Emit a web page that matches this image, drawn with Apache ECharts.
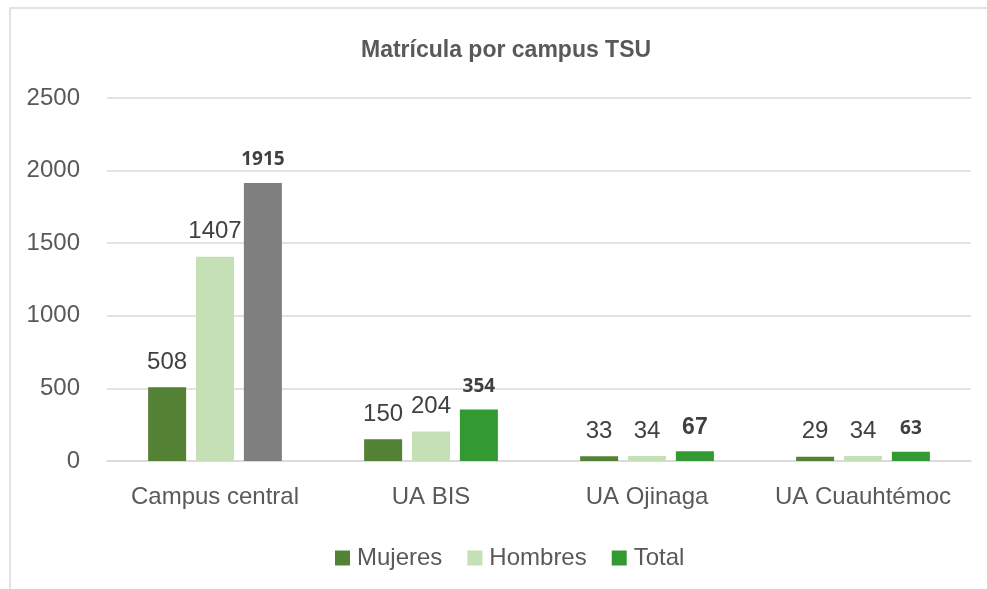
<!DOCTYPE html>
<html>
<head>
<meta charset="utf-8">
<script src="https://cdn.jsdelivr.net/npm/echarts@6/dist/echarts.min.js"></script>
<style>
  html, body { margin: 0; padding: 0; background: #fff; }
  #chart { width: 987px; height: 589px; }
</style>
</head>
<body>
<div id="chart"></div>
<script>
// categorias y valores
var campus = ["Campus central", "UA BIS", "UA Ojinaga", "UA Cuauhtémoc"];
var mujeres = [508, 150, 33, 29];
var hombres = [1407, 204, 34, 34];
var total = [1915, 354, 67, 63];
var yTicks = [0, 500, 1000, 1500, 2000, 2500];

var sans = "'Liberation Sans', Arial, sans-serif";

var chart = echarts.init(document.getElementById("chart"));

var plainLabel = {
  show: true,
  position: "top",
  distance: 13,
  fontFamily: sans,
  fontSize: 24,
  color: "#404040"
};

// total: gris en campus central, negritas en las etiquetas
var totalData = total.map(function(v, i) {
  var item = { value: v };
  if (i === 0) {
    item.itemStyle = { color: "#7f7f7f" };
  }
  if (i === 2) {
    item.label = { fontFamily: sans, fontSize: 23, fontWeight: "bold", distance: 12 };
  }
  return item;
});

var option = {
  backgroundColor: "#ffffff",
  animation: false,
  title: {
    text: "Matrícula por campus TSU",
    left: 356,
    top: 34,
    textStyle: {
      fontFamily: sans,
      fontSize: 23,
      fontWeight: "bold",
      color: "#595959"
    }
  },
  graphic: [
    {
      type: "rect",
      shape: { x: 10, y: 8, width: 1000, height: 620 },
      style: { fill: "none", stroke: "#d9d9d9", lineWidth: 1.5 },
      silent: true
    }
  ],
  legend: {
    left: 330,
    top: 541,
    itemWidth: 15,
    itemHeight: 15,
    itemGap: 25,
    icon: "rect",
    textStyle: {
      fontFamily: sans,
      fontSize: 24,
      color: "#595959",
      padding: [0, 0, 0, 2]
    },
    data: ["Mujeres", "Hombres", "Total"]
  },
  grid: {
    left: 107,
    right: 16,
    top: 98,
    bottom: 128
  },
  xAxis: {
    type: "category",
    data: campus,
    axisTick: { show: false },
    axisLine: { lineStyle: { color: "#d9d9d9", width: 1.5 } },
    axisLabel: {
      interval: 0,
      fontFamily: sans,
      fontSize: 24,
      color: "#595959",
      margin: 24
    }
  },
  yAxis: {
    type: "value",
    min: yTicks[0],
    max: yTicks[yTicks.length - 1],
    interval: 500,
    axisLine: { show: false },
    axisTick: { show: false },
    axisLabel: {
      fontFamily: sans,
      fontSize: 24,
      color: "#595959",
      margin: 27,
      formatter: function(v) { return String(v); }
    },
    splitLine: { lineStyle: { color: "#d9d9d9", width: 1.5 } }
  },
  series: [
    {
      name: "Mujeres",
      type: "bar",
      data: mujeres,
      barWidth: 38,
      barGap: "26%",
      itemStyle: { color: "#548235" },
      label: plainLabel
    },
    {
      name: "Hombres",
      type: "bar",
      data: hombres,
      barWidth: 38,
      barGap: "26%",
      itemStyle: { color: "#c5e0b4" },
      label: plainLabel
    },
    {
      name: "Total",
      type: "bar",
      data: totalData,
      barWidth: 38,
      barGap: "26%",
      itemStyle: { color: "#339933" },
      label: {
        show: true,
        position: "top",
        distance: 14,
        fontFamily: "'Open Sans', 'DejaVu Sans', sans-serif",
        fontSize: 19,
        fontWeight: "bold",
        color: "#404040"
      }
    }
  ]
};

chart.setOption(option);
</script>
</body>
</html>
